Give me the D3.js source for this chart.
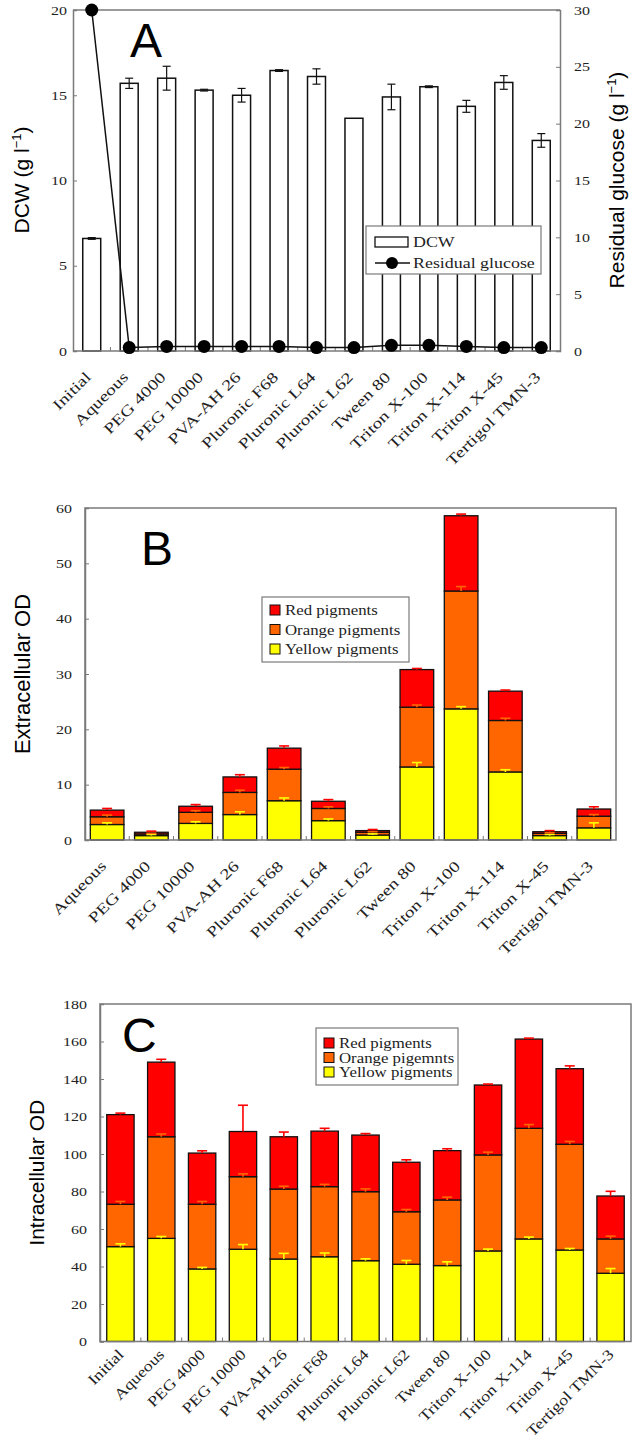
<!DOCTYPE html>
<html><head><meta charset="utf-8">
<script src="https://cdn.jsdelivr.net/npm/d3@7"></script>
<style>
body{margin:0;background:#fff;}
svg{display:block;}
.serif{font-family:"Liberation Serif","Times New Roman",serif;fill:#222;}
.sans{font-family:"Liberation Sans",Arial,sans-serif;fill:#000;}
</style></head>
<body><svg id="c" width="634" height="1446"></svg>
<script>
// ---------- data ----------
const catsA = ["Initial","Aqueous","PEG 4000","PEG 10000","PVA-AH 26","Pluronic F68","Pluronic L64","Pluronic L62","Tween 80","Triton X-100","Triton X-114","Triton X-45","Tertigol TMN-3"];
const catsB = catsA.slice(1);

// Panel A
const dcw     = [6.6,15.7,16.0,15.3,15.0,16.45,16.1,13.65,14.9,15.5,14.35,15.75,12.35];
const dcwErr  = [0.05,0.3,0.7,0.05,0.4,0.05,0.45,0,0.75,0.05,0.35,0.4,0.4];
const glucose = [30,0.3,0.4,0.4,0.4,0.4,0.3,0.3,0.5,0.5,0.4,0.3,0.3];
const ticksAL = [0,5,10,15,20];
const ticksAR = [0,5,10,15,20,25,30];

// Panel B (extracellular OD) segment values
const yellowB = [2.8,0.8,3.0,4.6,7.1,3.5,0.9,13.2,23.7,12.3,0.8,2.2];
const orangeB = [1.4,0.3,2.0,4.0,5.7,2.2,0.5,10.8,21.3,9.3,0.4,2.1];
const redB    = [1.2,0.3,1.1,2.8,3.8,1.3,0.3,6.8,13.6,5.3,0.3,1.3];
const yellowBErr = [0.3,0.2,0.3,0.5,0.5,0.3,0.2,0.8,0.4,0.4,0.2,0.9];
const orangeBErr = [0.3,0.1,0.3,0.4,0.3,0.3,0.1,0.4,0.8,0.4,0.1,0.3];
const redBErr    = [0.3,0.2,0.3,0.4,0.4,0.3,0.2,0.2,0.3,0.2,0.2,0.4];
const ticksB = [0,10,20,30,40,50,60];

// Panel C (intracellular OD) segment values
const yellowC = [50.6,55.0,38.7,49.2,44.0,45.2,43.1,41.2,40.5,48.3,54.7,48.8,36.4];
const orangeC = [22.6,54.2,34.5,38.7,37.3,37.4,36.8,28.0,35.0,51.2,59.0,56.4,18.3];
const redC    = [47.8,39.8,27.3,24.1,27.9,29.6,30.2,26.4,26.3,37.3,47.6,40.3,22.9];
const yellowCErr = [1.5,1.0,0.8,2.5,3.0,2.0,1.0,2.0,2.0,1.0,1.0,0.8,2.5];
const orangeCErr = [1.5,1.5,1.5,1.5,1.5,1.2,1.5,1.2,1.5,1.5,2.0,1.5,1.5];
const redCErr    = [0.8,1.5,1.2,14.0,2.5,1.5,0.8,1.3,1.0,0.5,0.5,1.5,2.5];
const ticksC = [0,20,40,60,80,100,120,140,160,180];

const pigNames = ["Red pigments","Orange pigments","Yellow pigments"];
const pigNamesC = ["Red pigments","Orange pigemnts","Yellow pigments"];
const pigColors = {red:"#ff0000",orange:"#ff6600",yellow:"#ffff00"};

// ---------- drawing ----------
const svg = d3.select("#c");
const AX = "#7a7a7a";
const SX = 1.23; // horizontal stretch of serif text in the source figure

function frame(g, x0, x1, y0, y1){
  g.append("rect").attr("x",x0).attr("y",y1).attr("width",x1-x0).attr("height",y0-y1)
    .attr("fill","none").attr("stroke",AX).attr("stroke-width",1.5);
}
function stretchedText(g, x, y, txt, fs, anchor, sx){
  return g.append("text").attr("class","serif").attr("font-size",fs).attr("text-anchor",anchor||"start")
    .attr("transform",`translate(${x},${y}) scale(${sx||SX},1)`).text(txt);
}
function vAxis(g, y, ticks, x0, side, gap){
  const ax = g.append("g").attr("transform",`translate(${x0},0)`)
    .call((side==="left"?d3.axisLeft(y):d3.axisRight(y)).tickValues(ticks).tickSize(-4).tickFormat(""));
  ax.select(".domain").attr("stroke",AX).attr("stroke-width",1.5);
  ax.selectAll(".tick line").attr("stroke",AX);
  ticks.forEach(v=>{
    stretchedText(g, side==="left"? x0-gap : x0+gap, y(v)+4.5, String(v), 13, side==="left"?"end":"start").attr("fill","#333");
  });
}
function xTicks(g, x, y0){
  const d = x.domain();
  for(let i=1;i<d.length;i++){
    const xx = x(d[i]);
    g.append("line").attr("x1",xx).attr("x2",xx).attr("y1",y0).attr("y2",y0-4).attr("stroke",AX);
  }
}
function xLabels(g, x, cats, y0, dx, dy, sx){
  g.selectAll(null).data(cats).enter().append("text")
    .attr("class","serif").attr("font-size",15).attr("text-anchor","end")
    .attr("transform",d=>`translate(${x(d)+x.bandwidth()/2+dx},${y0+dy}) rotate(-45) scale(${sx},1)`)
    .text(d=>d);
}
function yTitle(g, text, bx, cy, fs){
  g.append("text").attr("class","sans").attr("font-size",fs).attr("text-anchor","middle")
   .attr("transform",`translate(${bx},${cy}) rotate(-90)`).html(text);
}
function bigLetter(g, t, x, y){
  g.append("text").attr("class","sans").attr("font-size",48).attr("x",x).attr("y",y).text(t);
}

// ===== Panel A =====
{
  const g = svg.append("g");
  const x = d3.scaleBand().domain(catsA).range([73,560]);
  const yL = d3.scaleLinear().domain([0,20]).range([351,10]);
  const yR = d3.scaleLinear().domain([0,30]).range([351,10]);
  const bw = x.bandwidth()*0.48;
  const cx = d => x(d)+x.bandwidth()/2;

  g.selectAll(null).data(catsA).enter().append("rect")
    .attr("x",d=>cx(d)-bw/2).attr("width",bw)
    .attr("y",(d,i)=>yL(dcw[i])).attr("height",(d,i)=>yL(0)-yL(dcw[i]))
    .attr("fill","#fff").attr("stroke","#111").attr("stroke-width",1.5);
  catsA.forEach((d,i)=>{
    if(dcwErr[i]<=0) return;
    const c=cx(d), t=yL(dcw[i]+dcwErr[i]), b=yL(dcw[i]-dcwErr[i]);
    g.append("line").attr("x1",c).attr("x2",c).attr("y1",t).attr("y2",b).attr("stroke","#111").attr("stroke-width",1.2);
    [t,b].forEach(v=>g.append("line").attr("x1",c-4).attr("x2",c+4).attr("y1",v).attr("y2",v).attr("stroke","#111").attr("stroke-width",1.2));
  });
  g.append("line").attr("x1",73).attr("x2",560).attr("y1",10).attr("y2",10).attr("stroke",AX).attr("stroke-width",1.5);
  g.append("line").attr("x1",73).attr("x2",560).attr("y1",351).attr("y2",351).attr("stroke",AX).attr("stroke-width",1.5);
  vAxis(g, yL, ticksAL, 73, "left", 6);
  vAxis(g, yR, ticksAR, 560, "right", 14);
  xTicks(g, x, 351);

  const line = d3.line().x((d,i)=>cx(catsA[i])).y(d=>yR(d));
  g.append("path").datum(glucose).attr("d",line).attr("fill","none").attr("stroke","#111").attr("stroke-width",1.5);
  g.selectAll(null).data(glucose).enter().append("circle")
    .attr("cx",(d,i)=>cx(catsA[i])).attr("cy",d=>yR(d)).attr("r",6.5).attr("fill","#000");

  xLabels(g, x, catsA, 351, 0, 27, 1.3);
  yTitle(g, 'DCW (g l<tspan dy="-8" font-size="13">−1</tspan><tspan dy="8">)</tspan>', 29, 180, 21);
  yTitle(g, 'Residual glucose (g l<tspan dy="-8" font-size="13">−1</tspan><tspan dy="8">)</tspan>', 624, 180, 21);
  bigLetter(g,"A",130,57);

  const lg = g.append("g");
  lg.append("rect").attr("x",366).attr("y",226).attr("width",175).attr("height",48).attr("fill","#fff").attr("stroke",AX).attr("stroke-width",1.2);
  lg.append("rect").attr("x",375).attr("y",237).attr("width",33).attr("height",10).attr("fill","#fff").attr("stroke","#111").attr("stroke-width",1.3);
  stretchedText(lg, 413, 247, "DCW", 14, "start", 1.28).attr("fill","#111");
  lg.append("line").attr("x1",375).attr("x2",410).attr("y1",263).attr("y2",263).attr("stroke","#111").attr("stroke-width",1.3);
  lg.append("circle").attr("cx",392).attr("cy",263).attr("r",6).attr("fill","#000");
  stretchedText(lg, 413, 268, "Residual glucose", 14, "start", 1.28).attr("fill","#111");
}

function stackedPanel(opt){
  const g = svg.append("g");
  const x = d3.scaleBand().domain(opt.cats).range([opt.x0,opt.x1]);
  const y = d3.scaleLinear().domain([0,opt.max]).range([opt.y0,opt.y1]);
  const bw = x.bandwidth()*opt.bwf;
  const cx = d => x(d)+x.bandwidth()/2;
  const rows = opt.cats.map((c,i)=>({cat:c,yellow:opt.yellow[i],orange:opt.orange[i],red:opt.red[i],
     ey:opt.ey[i],eo:opt.eo[i],er:opt.er[i]}));
  const keys = ["yellow","orange","red"];
  const stack = d3.stack().keys(keys)(rows);
  const errKey = {yellow:"ey",orange:"eo",red:"er"};
  stack.forEach(s=>{
    g.selectAll(null).data(s).enter().append("rect")
      .attr("x",d=>cx(d.data.cat)-bw/2).attr("width",bw)
      .attr("y",d=>y(d[1])).attr("height",d=>y(d[0])-y(d[1]))
      .attr("fill",pigColors[s.key]).attr("stroke","#111").attr("stroke-width",1.3);
  });
  stack.forEach(s=>{
    s.forEach(d=>{
      const c=cx(d.data.cat), t=y(d[1]+d.data[errKey[s.key]]), b=y(d[1]);
      const col = pigColors[s.key];
      g.append("line").attr("x1",c).attr("x2",c).attr("y1",t).attr("y2",b).attr("stroke",col).attr("stroke-width",1.6);
      g.append("line").attr("x1",c-5).attr("x2",c+5).attr("y1",t).attr("y2",t).attr("stroke",col).attr("stroke-width",1.6);
    });
  });
  frame(g, opt.x0, opt.x1, opt.y0, opt.y1);
  vAxis(g, y, opt.ticks, opt.x0, "left", 13);
  xTicks(g, x, opt.y0);
  xLabels(g, x, opt.cats, opt.y0, opt.ldx, opt.ldy, opt.lsx);
  yTitle(g, opt.title, opt.tx, (opt.y0+opt.y1)/2, opt.tfs);
  bigLetter(g, opt.letter, opt.lx, opt.ly);
  const L = opt.leg;
  g.append("rect").attr("x",L.x).attr("y",L.y).attr("width",L.w).attr("height",L.h).attr("fill","#fff").attr("stroke",AX).attr("stroke-width",1.2);
  const cols=[pigColors.red,pigColors.orange,pigColors.yellow];
  opt.names.forEach((n,i)=>{
    const yy = L.y + L.first + i*L.step;
    g.append("rect").attr("x",L.x+8).attr("y",yy-5).attr("width",10).attr("height",10).attr("fill",cols[i]).attr("stroke","#111").attr("stroke-width",1);
    stretchedText(g, L.x+23, yy+5, n, L.fs, "start", 1.2).attr("fill","#111");
  });
}

// ===== Panel B =====
stackedPanel({cats:catsB, x0:85, x1:616, y0:840, y1:508, max:60, bwf:0.76, ticks:ticksB,
  yellow:yellowB, orange:orangeB, red:redB, ey:yellowBErr, eo:orangeBErr, er:redBErr,
  title:"Extracellular OD", tx:30, tfs:22, letter:"B", lx:141, ly:565, names:pigNames, ldx:0, ldy:27, lsx:1.3,
  leg:{x:262,y:597,w:147,h:65,first:13,step:19.5,fs:14}});

// ===== Panel C =====
stackedPanel({cats:catsA, x0:100, x1:631, y0:1341.5, y1:1004, max:180, bwf:0.67, ticks:ticksC,
  yellow:yellowC, orange:orangeC, red:redC, ey:yellowCErr, eo:orangeCErr, er:redCErr,
  title:"Intracellular OD", tx:44, tfs:21, letter:"C", lx:122, ly:1052, names:pigNamesC, ldx:4, ldy:14, lsx:1.2,
  leg:{x:316,y:1028,w:142,h:57,first:15,step:14.5,fs:14}});
</script></body></html>
